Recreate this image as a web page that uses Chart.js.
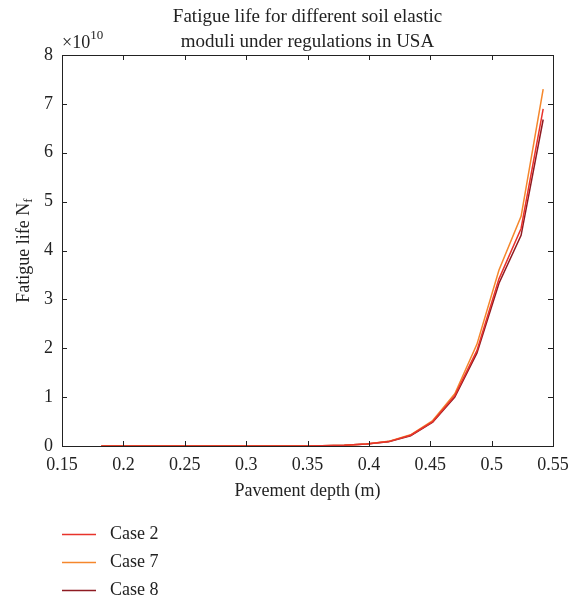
<!DOCTYPE html>
<html>
<head>
<meta charset="utf-8">
<script src="https://cdn.jsdelivr.net/npm/chart.js@4/dist/chart.umd.min.js"></script>
<style>
  html, body { margin: 0; padding: 0; background: #fff; }
  canvas { display: block; }
</style>
</head>
<body>
<canvas id="chart" width="579" height="603"></canvas>
<script>
// Fatigue life vs pavement depth, values in units of 1e10
const depths = [0.182, 0.200, 0.218, 0.236, 0.254, 0.272, 0.290, 0.308, 0.326, 0.344,
                0.362, 0.380, 0.398, 0.416, 0.434, 0.452, 0.470, 0.488, 0.506, 0.524, 0.542];
const case2 = [0, 0, 0, 0, 0, 0, 0, 0, 0.001, 0.002,
               0.005, 0.015, 0.04, 0.09, 0.22, 0.50, 1.03, 1.95, 3.42, 4.45, 6.90];
const case7 = [0, 0, 0, 0, 0, 0, 0, 0, 0.001, 0.002,
               0.005, 0.016, 0.042, 0.095, 0.23, 0.52, 1.07, 2.08, 3.60, 4.70, 7.30];
const case8 = [0, 0, 0, 0, 0, 0, 0, 0, 0.001, 0.002,
               0.005, 0.015, 0.039, 0.088, 0.21, 0.49, 1.00, 1.90, 3.33, 4.31, 6.68];
const xTicks = [0.15, 0.2, 0.25, 0.3, 0.35, 0.4, 0.45, 0.5, 0.55];
const yTicks = [0, 1, 2, 3, 4, 5, 6, 7, 8];
const seriesNames = ['Case 2', 'Case 7', 'Case 8'];
const seriesColors = ['#e8332b', '#f5872c', '#8e1b22'];

const SERIF = '"Liberation Serif", "DejaVu Serif", serif';

function toPoints(ys) {
    return depths.map((x, i) => ({ x: x, y: ys[i] }));
}

// box, inward ticks, titles and legend
const decorations = {
    id: 'decorations',
    afterDraw(chart) {
        const ctx = chart.ctx;
        const a = chart.chartArea;
        const xs = chart.scales.x;
        const ys = chart.scales.y;
        ctx.save();
        ctx.strokeStyle = '#222';
        ctx.lineWidth = 1;
        ctx.strokeRect(a.left + 0.5, a.top + 0.5, a.right - a.left, a.bottom - a.top);
        ctx.beginPath();
        xTicks.forEach(v => {
            const px = Math.round(xs.getPixelForValue(v)) + 0.5;
            ctx.moveTo(px, a.bottom); ctx.lineTo(px, a.bottom - 5);
            ctx.moveTo(px, a.top); ctx.lineTo(px, a.top + 5);
        });
        yTicks.forEach(v => {
            const py = Math.round(ys.getPixelForValue(v)) + 0.5;
            ctx.moveTo(a.left, py); ctx.lineTo(a.left + 5, py);
            ctx.moveTo(a.right, py); ctx.lineTo(a.right - 5, py);
        });
        ctx.stroke();

        ctx.fillStyle = '#222';
        // title
        ctx.font = '19px ' + SERIF;
        ctx.textAlign = 'center';
        ctx.textBaseline = 'middle';
        const cx = (a.left + a.right) / 2;
        ctx.fillText('Fatigue life for different soil elastic', cx, 17);
        ctx.fillText('moduli under regulations in USA', cx, 42);

        // exponent label
        ctx.textAlign = 'left';
        ctx.font = '18px ' + SERIF;
        ctx.fillText('\u00d710', a.left, 43);
        const w = ctx.measureText('\u00d710').width;
        ctx.font = '13px ' + SERIF;
        ctx.fillText('10', a.left + w, 36);

        // x title
        ctx.font = '18px ' + SERIF;
        ctx.textAlign = 'center';
        ctx.fillText('Pavement depth (m)', cx, 491);

        // y title with subscript
        ctx.save();
        ctx.translate(24, (a.top + a.bottom) / 2);
        ctx.rotate(-Math.PI / 2);
        ctx.font = '18px ' + SERIF;
        const main = 'Fatigue life N';
        const mw = ctx.measureText(main).width;
        ctx.font = '13px ' + SERIF;
        const sw = ctx.measureText('f').width;
        const start = -(mw + sw) / 2;
        ctx.textAlign = 'left';
        ctx.font = '18px ' + SERIF;
        ctx.fillText(main, start, 0);
        ctx.font = '13px ' + SERIF;
        ctx.fillText('f', start + mw, 5);
        ctx.restore();

        // legend
        ctx.font = '18px ' + SERIF;
        ctx.textAlign = 'left';
        chart.data.datasets.forEach((ds, i) => {
            const y = 534 + i * 28;
            ctx.strokeStyle = ds.borderColor;
            ctx.lineWidth = 1.5;
            ctx.beginPath();
            ctx.moveTo(62, y + 0.5);
            ctx.lineTo(96, y + 0.5);
            ctx.stroke();
            ctx.fillStyle = '#222';
            ctx.fillText(ds.label, 110, y);
        });
        ctx.restore();
    }
};

new Chart(document.getElementById('chart'), {
    type: 'line',
    data: {
        datasets: [case2, case7, case8].map((d, i) => ({
            label: seriesNames[i],
            data: toPoints(d),
            borderColor: seriesColors[i],
            borderWidth: 1.5,
            pointRadius: 0,
            tension: 0,
            fill: false
        }))
    },
    options: {
        responsive: false,
        animation: false,
        layout: { padding: { top: 55, right: 26, bottom: 120, left: 0 } },
        plugins: {
            legend: { display: false },
            title: { display: false },
            tooltip: { enabled: false }
        },
        scales: {
            x: {
                type: 'linear',
                min: 0.15,
                max: 0.55,
                afterBuildTicks: s => { s.ticks = xTicks.map(v => ({ value: v })); },
                afterFit: s => { s.height = 603 - 120 - 446; },
                grid: { display: false, drawTicks: false },
                border: { display: false },
                ticks: {
                    padding: 8,
                    color: '#222',
                    font: { family: SERIF, size: 18 },
                    callback: v => String(v)
                }
            },
            y: {
                min: 0,
                max: 8,
                afterBuildTicks: s => { s.ticks = yTicks.map(v => ({ value: v })); },
                afterFit: s => { s.width = 62; },
                grid: { display: false, drawTicks: false },
                border: { display: false },
                ticks: {
                    padding: 9,
                    color: '#222',
                    font: { family: SERIF, size: 18 },
                    callback: v => String(v)
                }
            }
        }
    },
    plugins: [decorations]
});
</script>
</body>
</html>
